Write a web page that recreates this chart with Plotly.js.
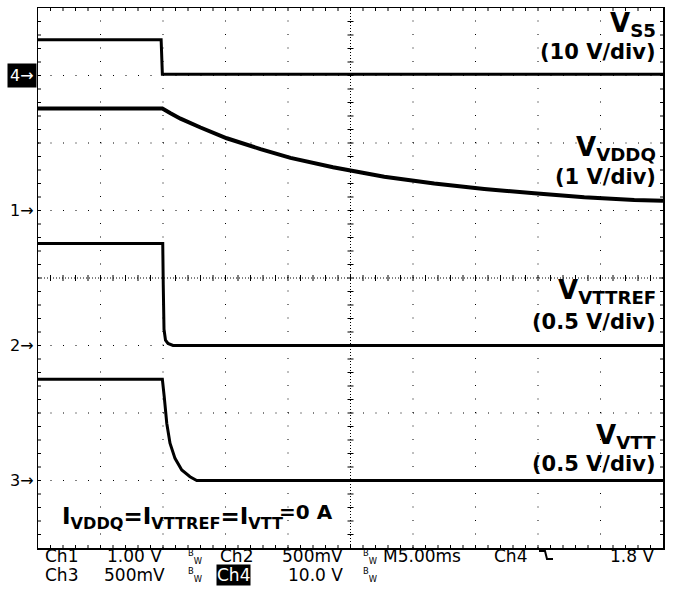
<!DOCTYPE html>
<html>
<head>
<meta charset="utf-8">
<script src="https://cdn.plot.ly/plotly-3.0.1.min.js"></script>
<style>
html,body{margin:0;padding:0;background:#fff;}
#chart{width:674px;height:592px;}
</style>
</head>
<body>
<div id="chart"></div>
<script>
// ---- Data (time in ms, voltage in V) ----
const t_vs5 = [0, 9.85, 9.95, 50];
const v_vs5 = [5.3, 5.3, 0.2, 0.2];

const t_vddq = [0, 9.95, 10.6, 11.4, 13.0, 15.1, 17.8, 20.2, 23.6, 27.7, 31.7, 35.7, 39.7, 43.7, 47.7, 50];
const v_vddq = [1.51, 1.51, 1.44, 1.36, 1.23, 1.07, 0.91, 0.78, 0.64, 0.50, 0.40, 0.32, 0.255, 0.195, 0.157, 0.145];

const t_vttref = [0, 9.98, 10.02, 10.08, 10.2, 10.4, 10.8, 50];
const v_vttref = [0.755, 0.755, 0.45, 0.12, 0.04, 0.015, 0, 0];

const t_vtt = [0, 9.95, 10.1, 10.3, 10.56, 10.96, 11.5, 12.16, 12.7, 50];
const v_vtt = [0.75, 0.75, 0.62, 0.424, 0.276, 0.164, 0.078, 0.028, 0.0, 0.0];

// channel settings: volts per division and ground reference (divisions from centre)
const ch4 = {scale: 10, offset: 3};
const ch1 = {scale: 1, offset: 1};
const ch2 = {scale: 0.5, offset: -1};
const ch3 = {scale: 0.5, offset: -3};

const labelNames = ['S5', 'VDDQ', 'VTTREF', 'VTT'];
const labelScales = ['(10 V/div)', '(1 V/div)', '(0.5 V/div)', '(0.5 V/div)'];
const markerNames = ['4', '1', '2', '3'];
const markerLevels = [ch4.offset, ch1.offset, ch2.offset, ch3.offset];

// graticule: 10 x 8 divisions, 5 ms/div, 5 minor steps per division
const xMin = 0, xMax = 50, xDiv = 5, yMin = -4, yMax = 4;

// ---- Layout helpers (pixel -> paper) ----
const W = 674, H = 592, L = 38, R = 11, T = 8, B = 44;
const PW = W - L - R, PH = H - T - B;
const px = x => (x - L) / PW;
const py = y => (H - B - y) / PH;

function toDiv(v, ch) { return v.map(a => ch.offset + a / ch.scale); }

const lineStyle = w => ({color: '#000', width: w, shape: 'linear'});
const traces = [
  {x: t_vs5, y: toDiv(v_vs5, ch4), mode: 'lines', line: lineStyle(3), hoverinfo: 'skip'},
  {x: t_vddq, y: toDiv(v_vddq, ch1), mode: 'lines', line: lineStyle(4), hoverinfo: 'skip'},
  {x: t_vttref, y: toDiv(v_vttref, ch2), mode: 'lines', line: lineStyle(3), hoverinfo: 'skip'},
  {x: t_vtt, y: toDiv(v_vtt, ch3), mode: 'lines', line: lineStyle(3), hoverinfo: 'skip'}
];

const boldFont = 'DejaVu Sans, Liberation Sans, sans-serif';
const scopeFont = 'DejaVu Sans, Liberation Sans, sans-serif';

const ann = [];
// channel labels, right side
const labelY1 = [25, 149, 291, 436];
const labelY2 = [52, 177, 322, 464];
for (let i = 0; i < labelNames.length; i++) {
  ann.push({xref: 'paper', yref: 'paper', x: px(658), y: py(labelY1[i]), xanchor: 'right', yanchor: 'middle',
    text: '<b>V<sub>' + labelNames[i] + '</sub></b>', showarrow: false,
    font: {family: boldFont, size: 26, color: '#000'}});
  ann.push({xref: 'paper', yref: 'paper', x: px(658), y: py(labelY2[i]), xanchor: 'right', yanchor: 'middle',
    text: '<b>' + labelScales[i] + '</b>', showarrow: false,
    font: {family: boldFont, size: 21, color: '#000'}});
}
// current equation
ann.push({xref: 'paper', yref: 'paper', x: px(60), y: py(518), xanchor: 'left', yanchor: 'middle',
  text: '<b>I<sub>VDDQ</sub>=I<sub>VTTREF</sub>=I<sub>VTT</sub></b>',
  showarrow: false, font: {family: boldFont, size: 23, color: '#000'}});
ann.push({xref: 'paper', yref: 'paper', x: px(335), y: py(512), xanchor: 'right', yanchor: 'middle',
  text: '<b>=0 A</b>', showarrow: false, font: {family: boldFont, size: 20, color: '#000'}});

// channel ground markers on the left
for (let i = 0; i < markerNames.length; i++) {
  const inv = i === 0;
  ann.push({xref: 'paper', yref: 'y', x: px(37), y: markerLevels[i], xanchor: 'right', yanchor: 'middle',
    text: markerNames[i] + '→', showarrow: false,
    font: {family: scopeFont, size: 16, color: inv ? '#fff' : '#000'},
    bgcolor: inv ? '#000' : 'rgba(0,0,0,0)', borderpad: 2});
}

// status lines at the bottom
const row1 = 555.5, row2 = 574.5;
const status = [
  ['Ch1', 43, row1, 'left'], ['1.00 V', 164, row1, 'right'], ['Ch2', 218, row1, 'left'],
  ['500mV', 345, row1, 'right'], ['M5.00ms', 381, row1, 'left'], ['Ch4', 492, row1, 'left'],
  ['1.8 V', 656, row1, 'right'],
  ['Ch3', 43, row2, 'left'], ['500mV', 167, row2, 'right'], ['10.0 V', 345, row2, 'right']
];
status.forEach(s => ann.push({xref: 'paper', yref: 'paper', x: px(s[1]), y: py(s[2]), xanchor: s[3], yanchor: 'middle',
  text: s[0], showarrow: false, font: {family: scopeFont, size: 17, color: '#000'}}));
ann.push({xref: 'paper', yref: 'paper', x: px(216), y: py(row2), xanchor: 'left', yanchor: 'middle',
  text: 'Ch4', showarrow: false, font: {family: scopeFont, size: 17, color: '#fff'}, bgcolor: '#000', borderpad: 0});
[[186, row1], [361, row1], [186, row2], [361, row2]].forEach(p => ann.push({xref: 'paper', yref: 'paper',
  x: px(p[0]), y: py(p[1] + 1), xanchor: 'left', yanchor: 'middle', text: '<sup>B</sup><sub>W</sub>', showarrow: false,
  font: {family: scopeFont, size: 12, color: '#000'}}));

// graticule shapes
const shapes = [
  {type: 'line', xref: 'paper', yref: 'y', x0: 0, x1: 1, y0: 0, y1: 0, layer: 'below',
    line: {color: '#000', width: 1, dash: '1px,2px'}},
  {type: 'line', xref: 'x', yref: 'paper', x0: 25, x1: 25, y0: 0, y1: 1, layer: 'below',
    line: {color: '#000', width: 1, dash: '1px,2px'}},
  {type: 'path', xref: 'paper', yref: 'paper',
    path: 'M' + px(539) + ',' + py(551) + ' L' + px(545) + ',' + py(551) + ' L' + px(547) + ',' + py(559) + ' L' + px(553) + ',' + py(559),
    line: {color: '#000', width: 2}}
];
const dotLine = {color: '#000', width: 1};
// dotted major grid lines
for (let xv = xMin + xDiv; xv < xMax; xv += xDiv) {
  if (xv === 25) continue;
  shapes.push({type: 'line', xref: 'x', yref: 'paper', x0: xv, x1: xv, y0: 0, y1: 1, layer: 'below',
    line: Object.assign({dash: '1px,12.5px'}, dotLine)});
}
for (let yv = yMin + 1; yv < yMax; yv += 1) {
  if (yv === 0) continue;
  shapes.push({type: 'line', xref: 'paper', yref: 'y', x0: 0, x1: 1, y0: yv, y1: yv, layer: 'below',
    line: Object.assign({dash: '1px,11.5px'}, dotLine)});
}
// tick marks: centre lines (both sides) and border (inward)
const pxPerMs = PW / (xMax - xMin), pxPerDiv = PH / (yMax - yMin);
const tx = n => n / pxPerMs, ty = n => n / pxPerDiv;
for (let k = 1; k < 50; k++) {
  shapes.push({type: 'line', xref: 'x', yref: 'y', x0: k, x1: k, y0: -ty(3), y1: ty(3), layer: 'below', line: dotLine});
  shapes.push({type: 'line', xref: 'x', yref: 'y', x0: k, x1: k, y0: yMax, y1: yMax - ty(3), layer: 'below', line: dotLine});
  shapes.push({type: 'line', xref: 'x', yref: 'y', x0: k, x1: k, y0: yMin, y1: yMin + ty(3), layer: 'below', line: dotLine});
}
for (let k = -19; k < 20; k++) {
  const yv = k * 0.2;
  shapes.push({type: 'line', xref: 'x', yref: 'y', x0: 25 - tx(3), x1: 25 + tx(3), y0: yv, y1: yv, layer: 'below', line: dotLine});
  shapes.push({type: 'line', xref: 'x', yref: 'y', x0: xMin, x1: xMin + tx(3), y0: yv, y1: yv, layer: 'below', line: dotLine});
  shapes.push({type: 'line', xref: 'x', yref: 'y', x0: xMax, x1: xMax - tx(3), y0: yv, y1: yv, layer: 'below', line: dotLine});
}

const baseX = {range: [xMin, xMax], showgrid: false, zeroline: false, showline: true, linecolor: '#000', linewidth: 1.5,
  mirror: true, ticks: '', showticklabels: false, fixedrange: true};
const baseY = {range: [yMin, yMax], showgrid: false, zeroline: false, showline: true, linecolor: '#000', linewidth: 1.5,
  mirror: true, ticks: '', showticklabels: false, fixedrange: true};

const layout = {
  width: W, height: H,
  margin: {l: L, r: R, t: T, b: B, pad: 0},
  paper_bgcolor: '#fff', plot_bgcolor: '#fff',
  showlegend: false,
  xaxis: baseX, yaxis: baseY,
  annotations: ann, shapes: shapes
};

Plotly.newPlot('chart', traces, layout, {staticPlot: true, displayModeBar: false});
</script>
</body>
</html>
